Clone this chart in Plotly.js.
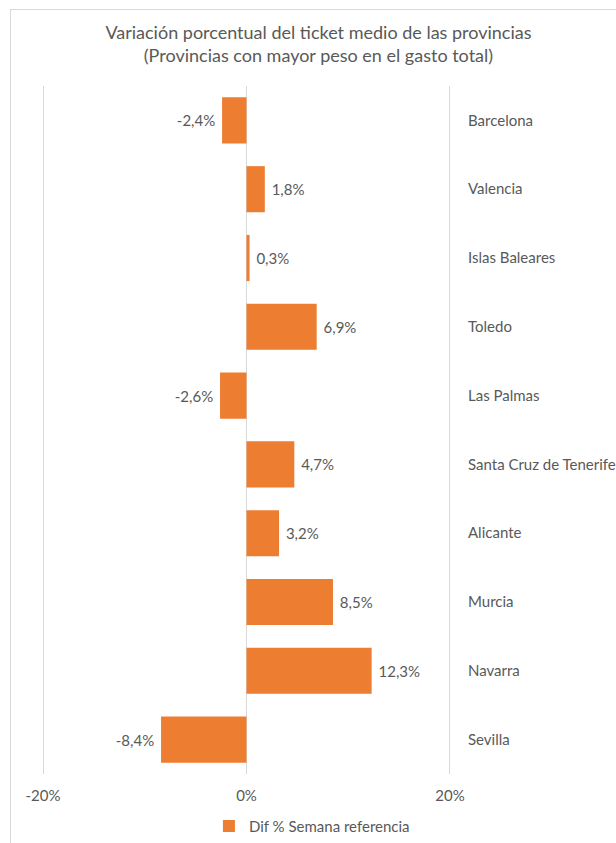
<!DOCTYPE html>
<html><head><meta charset="utf-8">
<script src="https://cdn.plot.ly/plotly-3.0.1.min.js"></script>
<style>
html,body{margin:0;padding:0;background:#fff;overflow:hidden}
#chart{width:616px;height:843px;position:absolute;left:0;top:0}
#frame{position:absolute;left:10px;top:9px;width:700px;height:900px;border:1px solid #d9d9d9;pointer-events:none}
</style></head>
<body>
<div id="chart"></div>
<div id="frame"></div>
<script>
const provincias = ["Barcelona","Valencia","Islas Baleares","Toledo","Las Palmas","Santa Cruz de Tenerife","Alicante","Murcia","Navarra","Sevilla"];
const difPct = [-2.4, 1.8, 0.3, 6.9, -2.6, 4.7, 3.2, 8.5, 12.3, -8.4];
const serieNombre = "Dif % Semana referencia";
const xTicks = [-20, 0, 20];
const xTickLabels = ["-20%", "0%", "20%"];

const font = "Lato, 'Open Sans', sans-serif";
const grey = "#595959";
const nb = "\u00A0";

Plotly.newPlot("chart", [{
  type: "bar",
  orientation: "h",
  x: difPct,
  y: provincias,
  name: serieNombre,
  marker: {color: "#ED7D31"},
  text: difPct.map(v => {
    const s = v.toFixed(1).replace(".", ",") + "%";
    return v < 0 ? s + nb : nb + s;
  }),
  textposition: "outside",
  textfont: {family: font, size: 15, color: grey},
  cliponaxis: false,
  hoverinfo: "none"
}], {
  width: 616, height: 843,
  paper_bgcolor: "rgba(0,0,0,0)",
  plot_bgcolor: "rgba(0,0,0,0)",
  margin: {l: 42, r: 165, t: 86, b: 69, autoexpand: false},
  bargap: 0.33,
  title: {
    text: "Variación porcentual del ticket medio de las provincias<br>(Provincias con mayor peso en el gasto total)",
    font: {family: font, size: 18, color: grey},
    x: 0.517, xanchor: "center", y: 0.954, yanchor: "top"
  },
  font: {family: font, color: grey},
  xaxis: {
    range: [-20.1, 20.1],
    tickvals: xTicks, ticktext: xTickLabels,
    showgrid: true, gridcolor: "#d9d9d9", gridwidth: 1,
    zeroline: true, zerolinecolor: "#d9d9d9", zerolinewidth: 1,
    showline: false, ticks: "", ticklen: 0,
    ticklabelstandoff: 11,
    tickfont: {family: font, size: 15, color: grey},
    fixedrange: true
  },
  yaxis: {
    side: "right",
    autorange: "reversed",
    showgrid: false, zeroline: false, showline: false, ticks: "",
    ticklabelstandoff: 16,
    tickfont: {family: font, size: 15, color: grey},
    fixedrange: true
  },
  showlegend: true,
  legend: {
    orientation: "h", x: 0.66, xanchor: "center",
    yref: "container", y: 0.02, yanchor: "middle",
    font: {family: font, size: 15, color: grey},
    itemwidth: 30
  }
}, {displayModeBar: false, staticPlot: true});
</script>
</body></html>
